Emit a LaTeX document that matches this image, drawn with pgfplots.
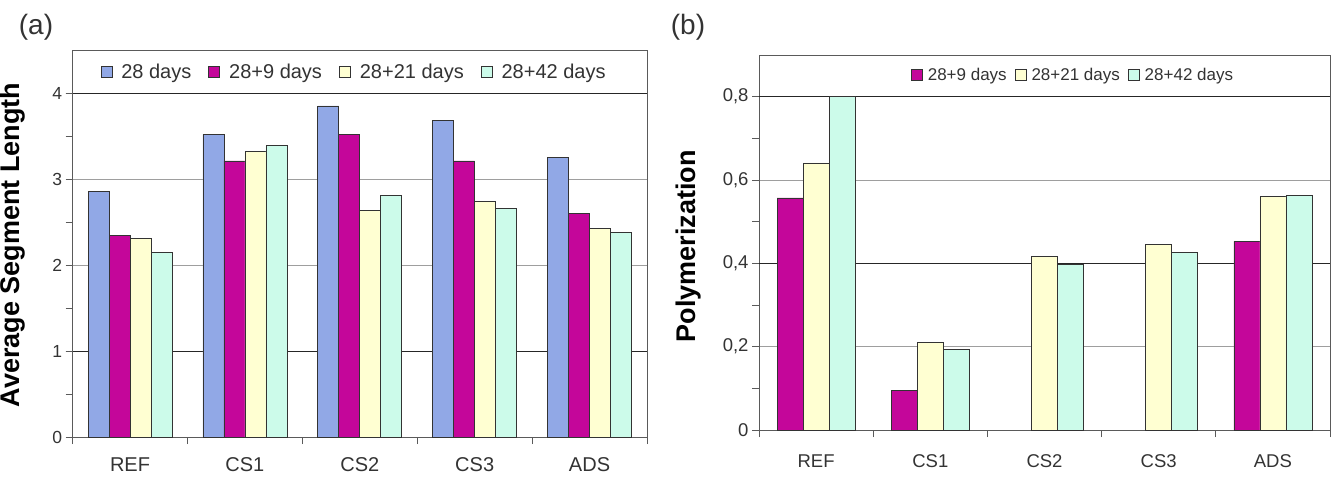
\documentclass[border=0pt]{standalone}
\usepackage{fontspec}
\setmainfont{Liberation Sans}
\usepackage{pgfplots}
\pgfplotsset{compat=1.18}
\definecolor{cA}{HTML}{91A8E6}
\definecolor{cB}{HTML}{C4069A}
\definecolor{cC}{HTML}{FFFFD2}
\definecolor{cD}{HTML}{CCFBEA}
\definecolor{axgray}{HTML}{5A5A5A}
\pgfplotsset{
  mybars/.style={
    scale only axis,
    xmin=-0.5, xmax=4.5, ymin=0,
    xtick={-0.5,0.5,1.5,2.5,3.5,4.5}, xticklabels={},
    extra x ticks={0,1,2,3,4},
    extra x tick labels={REF,CS1,CS2,CS3,ADS},
    tick align=outside,
    major tick length=7pt, minor tick length=7pt,
    xtick pos=bottom, ytick pos=left,
    minor y tick num=1,
    axis line style={draw=axgray, line width=1pt},
    every tick/.style={draw=axgray, line width=0.9pt},
    ymajorgrids,
    major grid style={draw=black!38, line width=1pt},
    ybar=0pt,
    /pgf/number format/assume math mode=true,
    yticklabel style={text=black!80},
    ylabel style={font=\bfseries\fontsize{27}{30}\selectfont, anchor=center},
    legend style={draw=none, fill=none, legend columns=-1, anchor=center,
      text=black!80},
    legend image code/.code={\draw[#1] (0pt,-5.5pt) rectangle (11pt,5.5pt);},
  },
}
\begin{document}
\begin{tikzpicture}
\useasboundingbox (0,0) rectangle (1336pt,483pt);
% ---------------- (a)
\begin{axis}[mybars,
  at={(72.6pt,46pt)}, anchor=south west,
  width=574.4pt, height=387pt,
  ymax=4.5, ytick={0,1,2,3,4},
  extra y ticks={1,4}, extra y tick labels={},
  extra y tick style={major grid style={draw=black!85, line width=1pt}},
  extra x tick style={major tick length=0pt,
    xticklabel style={font=\fontsize{20}{22}\selectfont, text=black!80, yshift=-17pt}},
  yticklabel style={font=\fontsize{17.5}{20}\selectfont},
  bar width=21pt,
  ylabel={Average Segment Length},
  ylabel style={at={(axis description cs:-0.1038,0.496)}},
  legend style={at={(axis description cs:0.49,0.943)},
    font=\fontsize{20}{22}\selectfont,
    /tikz/every odd column/.append style={column sep=7pt},
    /tikz/every even column/.append style={column sep=15pt}},
]
\addplot[fill=cA, draw=black!80, line width=0.8pt] coordinates {(0,2.86) (1,3.52) (2,3.85) (3,3.68) (4,3.25)};
\addplot[fill=cB, draw=black!80, line width=0.8pt] coordinates {(0,2.34) (1,3.21) (2,3.52) (3,3.21) (4,2.60)};
\addplot[fill=cC, draw=black!80, line width=0.8pt] coordinates {(0,2.31) (1,3.32) (2,2.63) (3,2.74) (4,2.42)};
\addplot[fill=cD, draw=black!80, line width=0.8pt] coordinates {(0,2.15) (1,3.39) (2,2.81) (3,2.66) (4,2.38)};
\legend{28 days, 28+9 days, 28+21 days, 28+42 days}
\end{axis}
% ---------------- (b)
\begin{axis}[mybars,
  at={(759pt,53pt)}, anchor=south west,
  width=571pt, height=375pt,
  ymax=0.9, ytick={0,0.2,0.4,0.6,0.8},
  yticklabels={0,{0,2},{0,4},{0,6},{0,8}},
  extra y ticks={0.4,0.8}, extra y tick labels={},
  extra y tick style={major grid style={draw=black!85, line width=1pt}},
  extra x tick style={major tick length=0pt,
    xticklabel style={font=\fontsize{18.5}{20}\selectfont, text=black!80, yshift=-21pt}},
  yticklabel style={font=\fontsize{18.5}{20}\selectfont},
  bar width=26pt,
  ylabel={Polymerization},
  ylabel style={at={(axis description cs:-0.1226,0.49)}},
  legend style={at={(axis description cs:0.55,0.947)},
    font=\fontsize{17}{19}\selectfont,
    /tikz/every odd column/.append style={column sep=3pt},
    /tikz/every even column/.append style={column sep=6pt}},
]
\addplot[fill=cB, draw=black!80, line width=0.8pt] coordinates {(0,0.557) (1,0.094) (4,0.453)};
\addplot[fill=cC, draw=black!80, line width=0.8pt] coordinates {(0,0.641) (1,0.211) (2,0.416) (3,0.445) (4,0.561)};
\addplot[fill=cD, draw=black!80, line width=0.8pt] coordinates {(0,0.800) (1,0.194) (2,0.397) (3,0.427) (4,0.563)};
\legend{28+9 days, 28+21 days, 28+42 days}
\end{axis}
\node[font=\fontsize{28}{30}\selectfont, text=black!80] at (36pt,456pt) {(a)};
\node[font=\fontsize{28}{30}\selectfont, text=black!80] at (688pt,456pt) {(b)};
\end{tikzpicture}
\end{document}
